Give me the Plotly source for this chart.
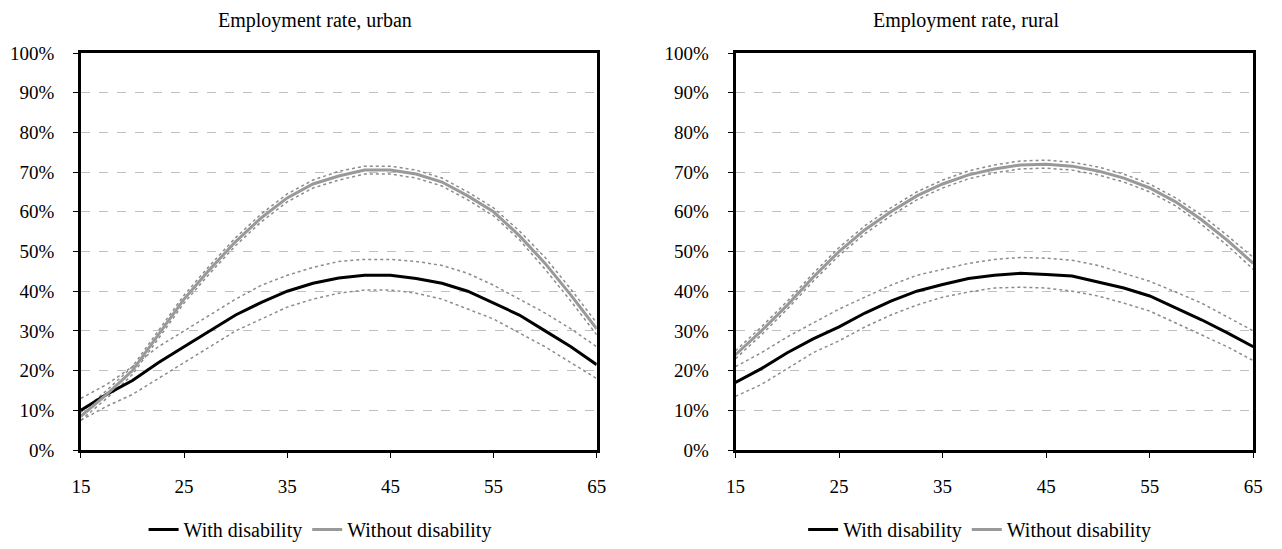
import plotly.graph_objects as go

# Age grid (years)
ages = [15, 17.5, 20, 22.5, 25, 27.5, 30, 32.5, 35, 37.5, 40, 42.5, 45,
        47.5, 50, 52.5, 55, 57.5, 60, 62.5, 65]

# Urban employment rates (%)
urban_dis = [10, 14, 17.5, 22, 26, 30, 34, 37.2, 40, 42, 43.3, 44, 44,
             43.2, 42, 40, 37, 34, 30, 26, 21.5]
urban_dis_hi = [13, 16.5, 21, 26, 30, 34, 38, 41.5, 44, 46, 47.5, 48, 48,
                47.5, 46.5, 44.5, 41.5, 38, 34.5, 30.5, 26]
urban_dis_lo = [7.5, 11, 14, 18, 22, 26, 30, 33, 36, 38, 39.5, 40.3, 40.3,
                39.5, 38, 35.5, 33, 29.5, 26, 22, 18]
urban_nodis = [8.5, 14, 20, 29, 38, 45.5, 52.5, 58.5, 63.5, 67, 69, 70.5, 70.5,
               69.5, 67.5, 64, 60, 54, 47, 39, 30.5]
urban_nodis_hi = [9.5, 15, 21, 30, 39, 46.5, 53.5, 59.5, 64.5, 68, 70.2, 71.5, 71.5,
                  70.5, 68.5, 65, 61, 55.2, 48.5, 40.5, 32]
urban_nodis_lo = [7.5, 13, 19, 28, 37, 44.5, 51.5, 57.5, 62.5, 66, 68, 69.5, 69.5,
                  68.5, 66.5, 63, 59, 53, 45.5, 37.5, 29]

# Rural employment rates (%)
rural_dis = [17, 20.5, 24.5, 28, 31, 34.5, 37.5, 40, 41.7, 43.2, 44, 44.5, 44.2,
             43.8, 42.3, 40.8, 38.8, 35.8, 32.8, 29.5, 26]
rural_dis_hi = [21, 24.5, 28.5, 32, 35.5, 38.5, 41.5, 44, 45.5, 47, 48, 48.5, 48.3,
                47.8, 46.5, 44.5, 42.5, 39.8, 37, 33.5, 30]
rural_dis_lo = [13.5, 16.5, 20.5, 24.5, 27.5, 31, 34, 36.5, 38.5, 39.8, 40.8, 41, 40.8,
                40, 38.8, 37, 35, 32, 29, 26, 22.5]
rural_nodis = [24, 30, 36.5, 43.5, 50, 55.5, 60, 64, 67, 69.3, 70.8, 71.8, 72,
               71.5, 70.3, 68.5, 66, 62.5, 58, 52.8, 47]
rural_nodis_hi = [25, 31, 37.5, 44.5, 51, 56.5, 61, 65, 68, 70.3, 71.8, 72.8, 73,
                  72.5, 71.3, 69.5, 67, 63.5, 59.2, 54, 48.5]
rural_nodis_lo = [23, 29, 35.5, 42.5, 49, 54.5, 59, 63, 66, 68.3, 69.8, 70.8, 71,
                  70.5, 69.3, 67.5, 65, 61.5, 56.8, 51.5, 45.5]

x_ticks = [15, 25, 35, 45, 55, 65]
y_ticks = [0, 10, 20, 30, 40, 50, 60, 70, 80, 90, 100]
y_labels = [f"{v}%" for v in y_ticks]

titles = ["Employment rate, urban", "Employment rate, rural"]
series_names = ["With disability", "Without disability"]

BLACK = "#000000"
GREY = "#999999"
CI_COLOR = "#8c8c8c"
FONT = "Liberation Serif, Times New Roman, serif"

fig = go.Figure()

panels = [
    ("x", "y", "legend", urban_dis, urban_dis_hi, urban_dis_lo,
     urban_nodis, urban_nodis_hi, urban_nodis_lo),
    ("x2", "y2", "legend2", rural_dis, rural_dis_hi, rural_dis_lo,
     rural_nodis, rural_nodis_hi, rural_nodis_lo),
]

for xa, ya, lg, dis, dis_hi, dis_lo, nod, nod_hi, nod_lo in panels:
    # confidence bands as dotted lines
    for band in (nod_hi, nod_lo, dis_hi, dis_lo):
        fig.add_trace(go.Scatter(
            x=ages, y=band, mode="lines", xaxis=xa, yaxis=ya,
            line=dict(color=CI_COLOR, width=1.5, dash="dot"),
            showlegend=False, hoverinfo="skip"))
    fig.add_trace(go.Scatter(
        x=ages, y=dis, mode="lines", name=series_names[0], xaxis=xa, yaxis=ya,
        line=dict(color=BLACK, width=3), legend=lg))
    fig.add_trace(go.Scatter(
        x=ages, y=nod, mode="lines", name=series_names[1], xaxis=xa, yaxis=ya,
        line=dict(color=GREY, width=3), legend=lg))

W, H = 1282, 549
top, bottom = 53, 456
plot_h = bottom - top

def px_x(p):
    return p / W

def px_y(p):
    return (bottom - p) / plot_h

axis_common = dict(
    showline=True, linecolor=BLACK, linewidth=2.5, mirror=True,
    ticks="outside", ticklen=5, tickcolor=BLACK, tickwidth=1,
    tickfont=dict(family=FONT, size=19, color=BLACK),
    zeroline=False,
)

xaxis = dict(axis_common, range=[15, 65], tickvals=x_ticks, showgrid=False,
             ticklabelstandoff=12)
yaxis = dict(axis_common, range=[0, 100], tickvals=y_ticks, ticktext=y_labels,
             showgrid=True, gridcolor="#c0c0c0", griddash="dash", gridwidth=1,
             ticklabelstandoff=15)

legend_common = dict(
    orientation="h", xanchor="center", yanchor="middle",
    font=dict(family=FONT, size=20, color=BLACK),
    bgcolor="rgba(0,0,0,0)", itemwidth=30, tracegroupgap=0,
)

fig.update_layout(
    width=W, height=H,
    margin=dict(l=0, r=0, t=top, b=H - bottom),
    paper_bgcolor="white", plot_bgcolor="white",
    xaxis=dict(xaxis, domain=[px_x(72), px_x(596)], anchor="y"),
    yaxis=dict(yaxis, domain=[0, 1], anchor="x"),
    xaxis2=dict(xaxis, domain=[px_x(737), px_x(1263)], anchor="y2"),
    yaxis2=dict(yaxis, domain=[0, 1], anchor="x2"),
    legend=dict(legend_common, x=px_x(315), y=px_y(537)),
    legend2=dict(legend_common, x=px_x(985), y=px_y(537)),
    annotations=[
        dict(text=titles[0], x=px_x(310), y=px_y(20), xref="paper", yref="paper",
             xanchor="center", yanchor="middle", showarrow=False,
             font=dict(family=FONT, size=20, color=BLACK)),
        dict(text=titles[1], x=px_x(971), y=px_y(20), xref="paper", yref="paper",
             xanchor="center", yanchor="middle", showarrow=False,
             font=dict(family=FONT, size=20, color=BLACK)),
    ],
)

fig.write_html("out.html")
